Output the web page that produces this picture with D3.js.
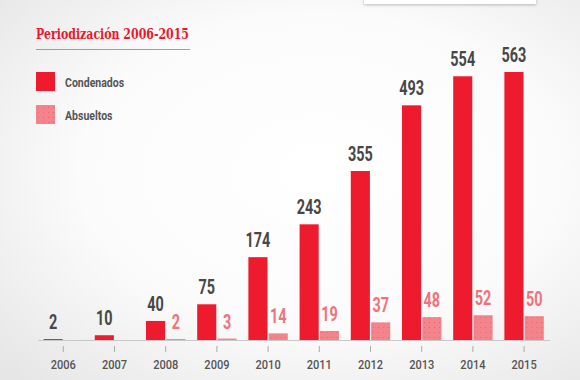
<!DOCTYPE html>
<html><head><meta charset="utf-8">
<script src="https://cdn.jsdelivr.net/npm/d3@7"></script>
<style>
html,body{margin:0;padding:0;background:#fff;}
svg{display:block;}
.nar{font-family:Roboto,'Noto Sans',sans-serif;}
.ser{font-family:'DejaVu Serif','Liberation Serif',serif;}
</style></head>
<body>
<svg id="chart" width="580" height="380"></svg>
<script>
const years = ["2006","2007","2008","2009","2010","2011","2012","2013","2014","2015"];
const condenados = [2,10,40,75,174,243,355,493,554,563];
const absueltos = [0,0,2,3,14,19,37,48,52,50];
const seriesNames = ["Condenados","Absueltos"];
const title = "Periodización 2006-2015";

const W = 580, H = 380;
const svg = d3.select("#chart");
const red = "#ee1b2e", pink = "#f4848b";
const SX = 0.74; // horizontal squeeze to mimic condensed face

const defs = svg.append("defs");
const rg = defs.append("radialGradient").attr("id","bg").attr("cx","55%").attr("cy","45%").attr("r","75%");
rg.append("stop").attr("offset","0%").attr("stop-color","#ffffff");
rg.append("stop").attr("offset","55%").attr("stop-color","#fbfbfb");
rg.append("stop").attr("offset","100%").attr("stop-color","#e6e6e6");
const pat = defs.append("pattern").attr("id","dots").attr("patternUnits","userSpaceOnUse").attr("width",5).attr("height",5);
pat.append("rect").attr("width",5).attr("height",5).attr("fill",pink);
pat.append("rect").attr("x",2).attr("y",2).attr("width",1).attr("height",1).attr("fill","#e46470");
const sh = defs.append("filter").attr("id","sh").attr("x","-10%").attr("y","-50%").attr("width","120%").attr("height","250%");
sh.append("feDropShadow").attr("dx",0).attr("dy",1).attr("stdDeviation",1.5).attr("flood-color","#000").attr("flood-opacity",0.25);

svg.append("rect").attr("width",W).attr("height",H).attr("fill","url(#bg)");
svg.append("rect").attr("x",364).attr("y",-6).attr("width",172).attr("height",10).attr("fill","#fff").attr("filter","url(#sh)");

// title
svg.append("text").attr("class","ser").attr("x",36).attr("y",39).text(title)
  .attr("font-size",14.5).attr("font-weight","bold")
  .attr("fill","#e8192c").attr("textLength",153).attr("lengthAdjust","spacingAndGlyphs");
svg.append("line").attr("x1",36).attr("x2",190).attr("y1",49.5).attr("y2",49.5).attr("stroke","#f07a82").attr("stroke-width",1);

// legend
const legend = svg.append("g");
seriesNames.forEach((n,i)=>{
  const g = legend.append("g").attr("transform",`translate(36,${72+i*33})`);
  g.append("rect").attr("width",19).attr("height",19).attr("fill", i===0?red:"url(#dots)");
  g.append("text").attr("class","nar").attr("transform","translate(29,14.5) scale(0.78,1)").text(n).attr("font-weight","bold")
    .attr("font-size",13.5).attr("fill","#555");
});

// scales
const x0 = d3.scaleBand().domain(years).range([37.7,549.7]).paddingInner(0.23).paddingOuter(0.115);
const x1 = d3.scaleBand().domain(seriesNames).range([0,x0.bandwidth()]).paddingInner(0.06);
const y = d3.scaleLinear().domain([0,563]).range([340,72]);

const data = years.map((yr,i)=>({year:yr, vals:[{k:"Condenados",v:condenados[i]},{k:"Absueltos",v:absueltos[i]}]}));

// axis
const axis = svg.append("g").attr("transform","translate(0,340)")
  .call(d3.axisBottom(x0).tickSize(0).tickPadding(0));
axis.select(".domain").attr("stroke","#c8c8c8").attr("stroke-width",1.2);
axis.selectAll(".tick text").remove();
axis.selectAll(".tick").append("line").attr("y1",6).attr("y2",12).attr("stroke","#aaa").attr("stroke-width",1);
axis.selectAll(".tick").append("text").attr("class","nar").attr("transform","translate(0,29) scale(0.85,1)")
  .attr("text-anchor","middle").text(d=>d)
  .attr("font-size",13).attr("font-weight",500).attr("fill","#555");

const groups = svg.append("g").selectAll("g").data(data).join("g")
  .attr("transform",d=>`translate(${x0(d.year)},0)`);
groups.selectAll("rect").data(d=>d.vals).join("rect")
  .attr("x",d=>x1(d.k)).attr("width",x1.bandwidth())
  .attr("y",d=>y(d.v)).attr("height",d=>y(0)-y(d.v))
  .attr("fill",d=>d.k==="Condenados"?red:"url(#dots)");
groups.selectAll("text.v").data(d=>d.vals.filter(e=>e.v>0)).join("text").attr("class","v nar")
  .attr("transform",d=>`translate(${x1(d.k)+x1.bandwidth()/2},${y(d.v)-10}) scale(${SX},1)`)
  .attr("text-anchor","middle").text(d=>d.v)
  .attr("font-weight","bold").attr("font-size",19.5)
  .attr("fill",d=>d.k==="Condenados"?"#474747":"#f0727c");
</script>
</body></html>
